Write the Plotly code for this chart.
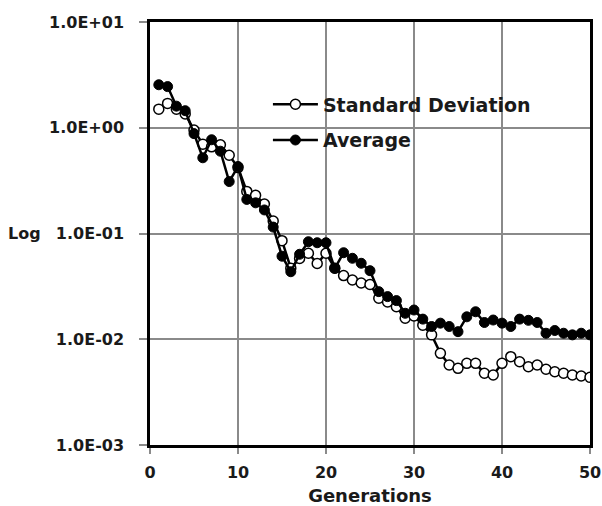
import plotly.graph_objects as go

generations = list(range(1, 51))

std_dev = [1.50, 1.70, 1.50, 1.35, 0.95, 0.70, 0.66, 0.69, 0.55, 0.42,
           0.25, 0.23, 0.19, 0.131, 0.0855, 0.047, 0.058, 0.065, 0.052, 0.065,
           0.047, 0.040, 0.0363, 0.034, 0.033, 0.0244, 0.0225, 0.0203, 0.0158, 0.0166,
           0.0136, 0.0110, 0.00736, 0.00571, 0.00531, 0.00592, 0.00592, 0.00477, 0.00459, 0.00592,
           0.00684, 0.00613, 0.00550, 0.00571, 0.00520, 0.00493, 0.00477, 0.00459, 0.00449, 0.00436]

average = [2.55, 2.45, 1.60, 1.45, 0.88, 0.52, 0.77, 0.60, 0.31, 0.43,
           0.21, 0.195, 0.167, 0.115, 0.061, 0.0435, 0.0636, 0.0836, 0.0818, 0.0818,
           0.0469, 0.0658, 0.0583, 0.0523, 0.0445, 0.0282, 0.0253, 0.0232, 0.0176, 0.0189,
           0.0155, 0.0132, 0.0142, 0.0132, 0.0118, 0.0163, 0.0182, 0.0144, 0.0152, 0.0142,
           0.0132, 0.0155, 0.0151, 0.0144, 0.0114, 0.0121, 0.0114, 0.0110, 0.0114, 0.0110]

y_tickvals = [1e-3, 1e-2, 1e-1, 1e0, 1e1]
y_ticktext = ["1.0E-03", "1.0E-02", "1.0E-01", "1.0E+00", "1.0E+01"]
x_tickvals = [0, 10, 20, 30, 40, 50]

FONT = "DejaVu Sans"
TXT = "#1a1a1a"

fig = go.Figure()
fig.add_trace(go.Scatter(
    x=generations, y=std_dev, name="Standard Deviation", mode="lines+markers",
    legendgroup="a",
    line=dict(color="black", width=2.5),
    marker=dict(symbol="circle", size=10, color="white", line=dict(color="black", width=1.5)),
))
fig.add_trace(go.Scatter(
    x=generations, y=average, name="Average", mode="lines+markers",
    legendgroup="b",
    line=dict(color="black", width=2.5),
    marker=dict(symbol="circle", size=10, color="black", line=dict(color="black", width=1)),
))

fig.update_layout(
    width=602, height=506,
    margin=dict(l=150, r=12, t=22, b=61),
    paper_bgcolor="white", plot_bgcolor="white",
    font=dict(family=FONT, color=TXT),
    showlegend=True,
    legend=dict(
        x=0.268, y=0.85, xanchor="left", yanchor="top",
        bgcolor="rgba(0,0,0,0)",
        font=dict(family=FONT, size=19, color=TXT, weight="bold"),
        tracegroupgap=8, traceorder="grouped", itemwidth=45,
    ),
    xaxis=dict(
        range=[0, 50], tickvals=x_tickvals, automargin=False,
        showgrid=True, gridcolor="#8a8a8a", gridwidth=1.5,
        showline=True, linecolor="black", linewidth=2.5, mirror=True,
        ticks="outside", ticklen=6, tickcolor="#8a8a8a", tickwidth=1.5,
        ticklabelstandoff=5,
        tickfont=dict(family=FONT, size=16, color=TXT, weight="bold"),
        title=dict(text="Generations", font=dict(family=FONT, size=18, color=TXT, weight="bold"), standoff=12),
        zeroline=False,
    ),
    yaxis=dict(
        type="log", range=[-3, 1], tickvals=y_tickvals, ticktext=y_ticktext, automargin=False,
        showgrid=True, gridcolor="#8a8a8a", gridwidth=1.5,
        showline=True, linecolor="black", linewidth=2.5, mirror=True,
        ticks="outside", ticklen=8, tickcolor="#8a8a8a", tickwidth=1.5,
        ticklabelstandoff=12,
        tickfont=dict(family=FONT, size=16, color=TXT, weight="bold"),
        zeroline=False,
    ),
)

fig.add_annotation(
    text="Log", xref="paper", yref="y", x=-0.243, y=-1, xanchor="right", yanchor="middle",
    showarrow=False, font=dict(family=FONT, size=16, color=TXT, weight="bold"),
)

fig.write_html("out.html")
